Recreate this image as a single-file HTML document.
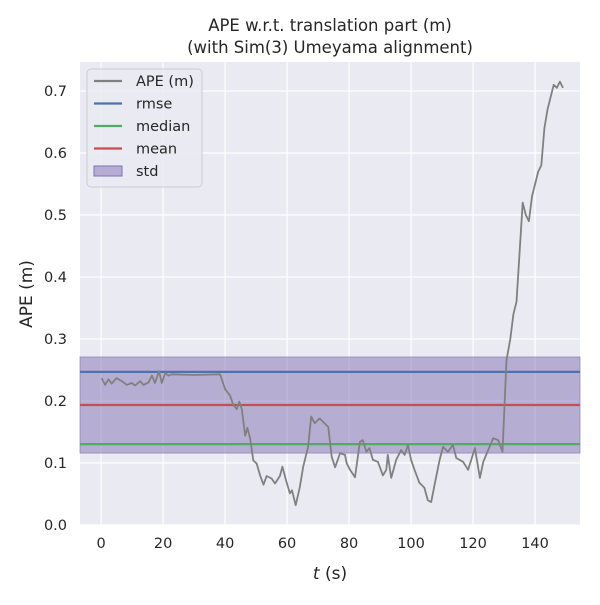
<!DOCTYPE html>
<html><head><meta charset="utf-8"><style>
body{margin:0;background:#fff;font-family:"Liberation Sans","DejaVu Sans",sans-serif}
</style></head><body>
<svg id="chart" width="600" height="600" xmlns="http://www.w3.org/2000/svg" font-family="DejaVu Sans, Liberation Sans, sans-serif"></svg>
<script>
const times=[0.2,1.3,2.4,3.4,5,6.7,8.3,9.9,11,12.6,13.7,15.3,16.4,17.4,18.7,19.6,20.7,21.7,22.8,30,38.4,40,41.6,42.7,43.8,44.6,45.4,46.5,47.2,48.1,49.1,50.2,51.3,52.4,53.4,55,56.1,57.7,58.5,59.8,60.9,61.6,62.8,64.1,65.2,66.8,67.8,68.9,70.5,73.3,74.4,75.5,77.1,78.7,79.2,80.3,81.9,83.5,84.4,85.6,86.6,87.7,89.3,90.9,92,92.5,93.6,95.2,96.8,97.9,99,100,101.1,102.7,104.3,105.4,106.5,107.6,109.2,110.3,111.9,113.5,114.6,116.8,118.4,120.6,122.2,123.3,124.9,126.5,128.1,129.5,130.8,132,133,134,135,136,137,138,139,140,141,142,143,144,145,146,147,148,149];
const apeValues=[.237,.226,.235,.228,.237,.232,.226,.229,.225,.232,.226,.23,.241,.229,.248,.229,.245,.241,.243,.242,.243,.219,.209,.193,.187,.199,.187,.144,.157,.139,.104,.099,.08,.065,.079,.075,.067,.079,.094,.07,.051,.056,.032,.061,.094,.126,.175,.164,.172,.158,.11,.093,.116,.113,.1,.089,.077,.134,.137,.118,.124,.105,.102,.08,.089,.113,.076,.105,.121,.113,.129,.105,.089,.068,.06,.04,.037,.065,.105,.126,.118,.129,.108,.102,.089,.124,.076,.102,.121,.14,.137,.118,.266,.3,.34,.36,.44,.52,.5,.49,.53,.55,.57,.58,.64,.67,.69,.71,.705,.715,.705];
const statNames=["rmse","median","mean"];
const statValues=[0.247,0.1305,0.1935];
const statColors=["#4c72b0","#55a868","#c44e52"];
const stdRange=[0.116,0.271];
const xTicks=[0,20,40,60,80,100,120,140];
const yTicks=[0.0,0.1,0.2,0.3,0.4,0.5,0.6,0.7];

const L=80,R=580,T=62,B=525;
const xMin=-6.8,xMax=154.5,yMin=0,yMax=0.7468;
const xs=v=>L+(v-xMin)/(xMax-xMin)*(R-L);
const ys=v=>B-(v-yMin)/(yMax-yMin)*(B-T);
const NS="http://www.w3.org/2000/svg";
const svg=document.getElementById('chart');
function mk(tag,attrs,parent){const e=document.createElementNS(NS,tag);for(const k in attrs)e.setAttribute(k,attrs[k]);(parent||svg).appendChild(e);return e;}

const bg=mk('rect',{x:L,y:T,width:R-L,height:B-T,fill:'#eaeaf2'});


xTicks.forEach(t=>{
  const g=mk('line',{x1:xs(t),x2:xs(t),y1:T,y2:B,stroke:'#fff','stroke-width':1.2});
  
  
  const tx=mk('text',{x:xs(t),y:B+23,'text-anchor':'middle','font-size':14.5,fill:'#262626'});
  tx.textContent=t;
  
  
});
yTicks.forEach(t=>{
  const g=mk('line',{x1:L,x2:R,y1:ys(t),y2:ys(t),stroke:'#fff','stroke-width':1.2});
  
  
  const tx=mk('text',{x:L-13,y:ys(t)+5,'text-anchor':'end','font-size':14.5,fill:'#262626'});
  tx.textContent=t.toFixed(1);
  
  
});
const band=mk('rect',{x:L,y:ys(stdRange[1]),width:R-L,height:ys(stdRange[0])-ys(stdRange[1]),fill:'#8172b2','fill-opacity':0.5,stroke:'#8172b2','stroke-opacity':0.6});


statValues.forEach((v,i)=>{
  const l=mk('line',{x1:L,x2:R,y1:ys(v),y2:ys(v),stroke:statColors[i],'stroke-width':2.2});
  
  
});
const pts=times.map((t,i)=>xs(t).toFixed(1)+','+ys(apeValues[i]).toFixed(1)).join(' ');
const pl=mk('polyline',{points:pts,fill:'none',stroke:'#808080','stroke-width':1.8,'stroke-linejoin':'round'});



const t1=mk('text',{x:330,y:31,'text-anchor':'middle','font-size':16.5,fill:'#262626'});
t1.textContent='APE w.r.t. translation part (m)';


const t2=mk('text',{x:330,y:53,'text-anchor':'middle','font-size':16.5,fill:'#262626'});
t2.textContent='(with Sim(3) Umeyama alignment)';


const xl=mk('text',{x:330,y:579,'text-anchor':'middle','font-size':17,fill:'#262626'});
xl.innerHTML='<tspan font-style="italic">t</tspan> (s)';


const yl=mk('text',{x:32,y:294,'text-anchor':'middle','font-size':17,fill:'#262626',transform:'rotate(-90 32 294)'});
yl.textContent='APE (m)';



const lg=mk('g',{});


mk('rect',{x:87,y:69,width:115,height:118,rx:4,fill:'#eaeaf2','fill-opacity':0.8,stroke:'#cccccc'},lg);
const entries=[['APE (m)','#808080','line'],['rmse',statColors[0],'line'],['median',statColors[1],'line'],['mean',statColors[2],'line'],['std','#8172b2','patch']];
entries.forEach((e,i)=>{
  const y=81+i*22.5;
  let m;
  if(e[2]==='line') m=mk('line',{x1:94,x2:122,y1:y,y2:y,stroke:e[1],'stroke-width':2.2},lg);
  else m=mk('rect',{x:94,y:y-5,width:28,height:10,fill:e[1],'fill-opacity':0.5,stroke:e[1]},lg);
  
  
  const tx=mk('text',{x:136,y:y+5,'font-size':14.5,fill:'#262626'},lg);
  tx.textContent=e[0];
  
  
});
</script>
</body></html>
